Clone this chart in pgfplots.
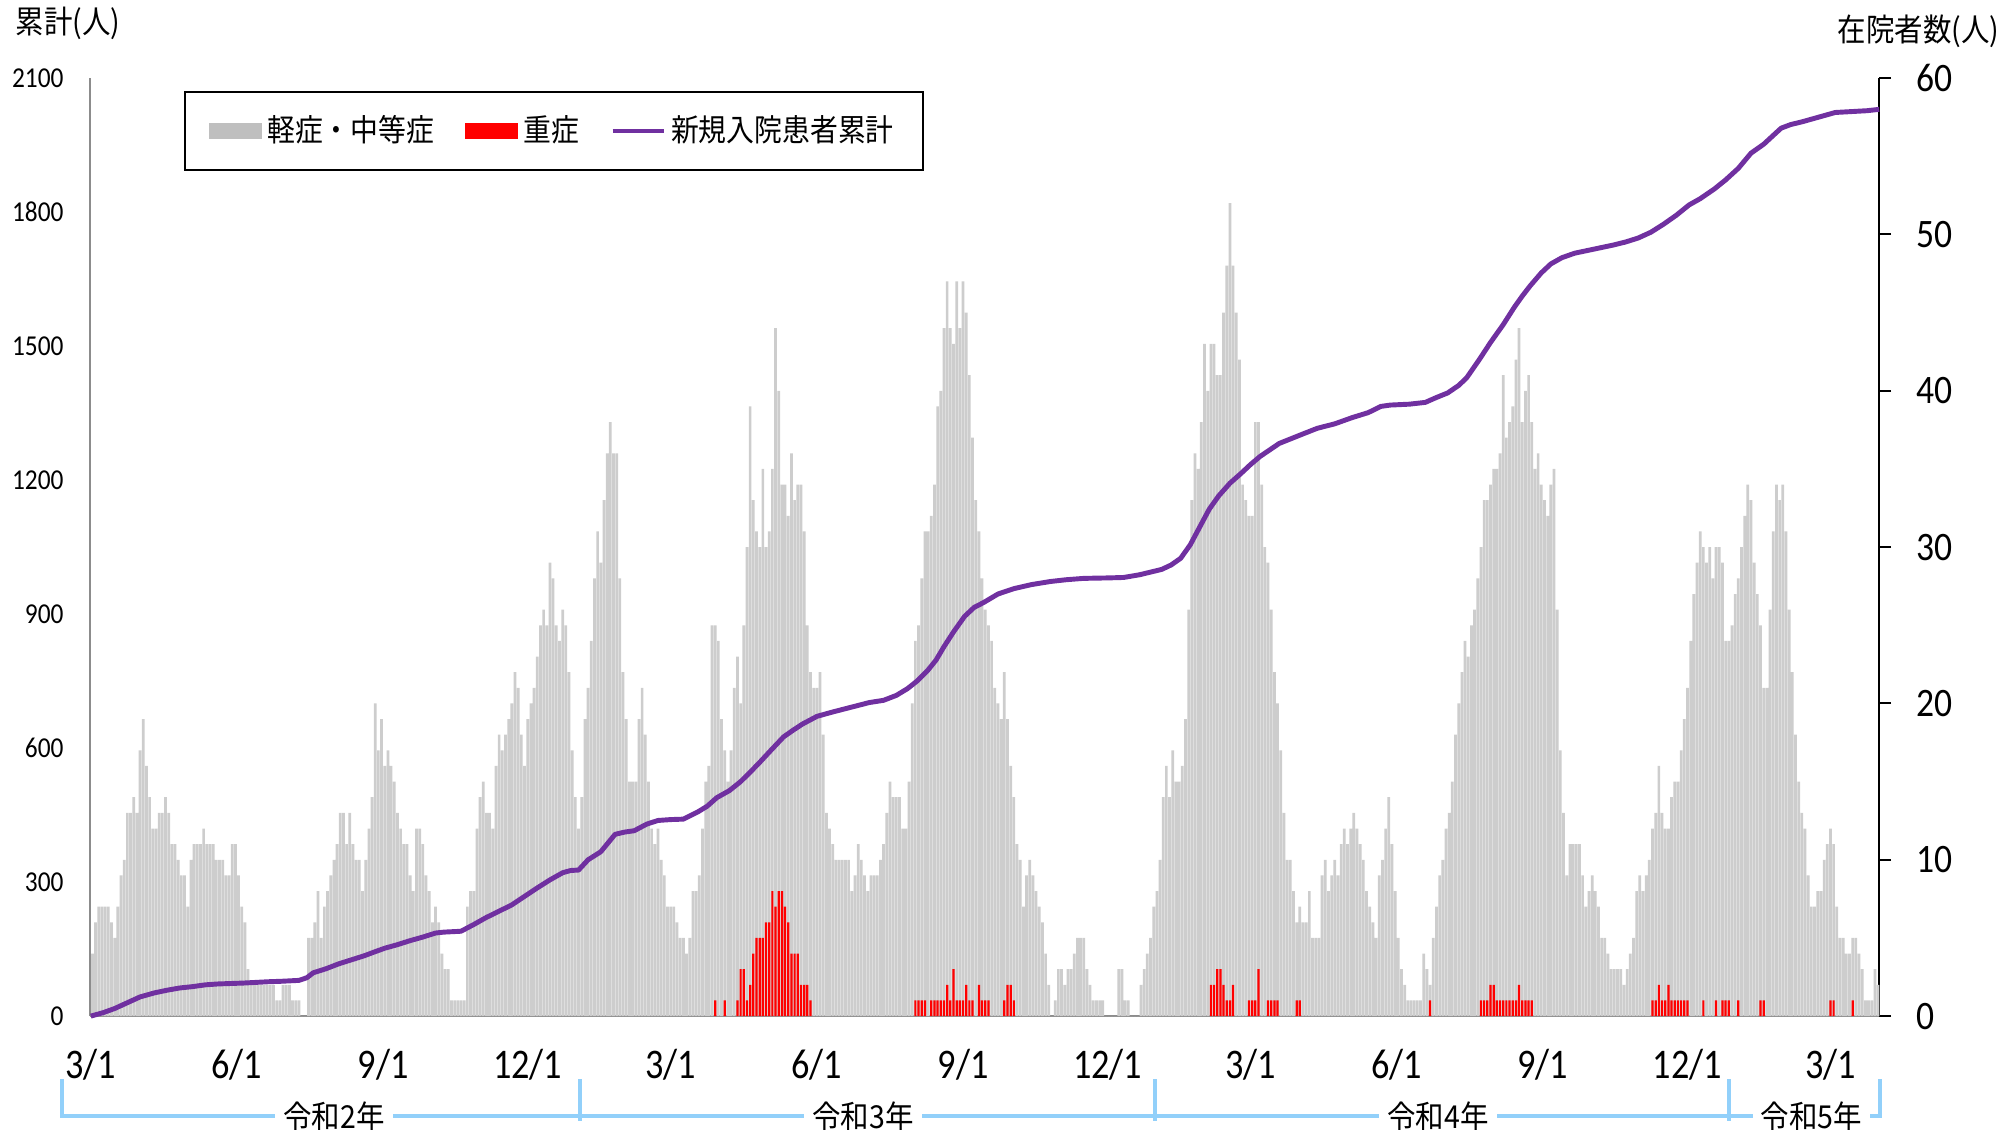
\documentclass[border=0pt]{standalone}
\usepackage{fontspec}
\usepackage{pgfplots}
\usepackage{pgfplotstable}
\pgfplotsset{compat=1.18}
\setmainfont{Carlito}
\newfontfamily\jp[FakeStretch=0.9]{Noto Sans CJK JP}
\newfontfamily\numc[FakeStretch=0.86]{Carlito}
\newfontfamily\numr[FakeStretch=0.88]{Carlito}
\definecolor{barGray}{RGB}{205,205,205}
\definecolor{legGray}{RGB}{191,191,191}
\definecolor{lineP}{RGB}{112,48,160}
\definecolor{axGray}{RGB}{140,140,140}
\definecolor{yrBlue}{RGB}{146,208,250}

% in-hospital total, one value per two days starting 2020-03-01
\pgfplotstableread[row sep=\\]{t\\
4\\6\\7\\7\\7\\7\\6\\5\\7\\9\\10\\13\\13\\14\\13\\17\\19\\16\\14\\12\\12\\13\\13\\14\\13\\11\\11\\10\\9\\9\\7\\10\\11\\11\\11\\12\\11\\11\\11\\10\\10\\10\\9\\9\\11\\11\\9\\7\\6\\3\\
2\\2\\2\\2\\2\\2\\2\\2\\1\\1\\2\\2\\2\\1\\1\\1\\0\\0\\
5\\5\\6\\8\\5\\7\\8\\9\\10\\11\\13\\13\\11\\13\\11\\10\\10\\8\\10\\12\\14\\20\\17\\19\\16\\17\\16\\15\\13\\12\\11\\11\\9\\8\\12\\12\\11\\9\\8\\6\\7\\6\\4\\3\\3\\1\\1\\1\\1\\1\\
7\\8\\8\\12\\14\\15\\13\\13\\12\\16\\18\\17\\18\\19\\20\\22\\21\\18\\16\\19\\20\\21\\23\\25\\26\\25\\29\\28\\25\\24\\26\\25\\22\\17\\14\\12\\14\\19\\21\\24\\28\\31\\29\\33\\36\\38\\36\\36\\28\\22\\
19\\15\\15\\15\\19\\21\\18\\15\\12\\11\\12\\10\\9\\7\\7\\7\\6\\5\\5\\4\\5\\8\\8\\9\\12\\15\\16\\25\\25\\24\\19\\17\\15\\17\\21\\23\\20\\25\\30\\39\\33\\31\\30\\35\\30\\31\\35\\44\\40\\34\\
34\\32\\36\\33\\34\\34\\31\\25\\22\\21\\21\\22\\18\\13\\12\\11\\10\\10\\10\\10\\10\\8\\9\\11\\10\\9\\8\\9\\9\\9\\10\\11\\13\\15\\14\\14\\14\\12\\12\\15\\20\\24\\25\\28\\31\\31\\32\\34\\39\\40\\
44\\47\\44\\43\\47\\44\\47\\45\\41\\37\\33\\31\\28\\26\\25\\24\\21\\20\\19\\22\\19\\16\\14\\11\\10\\7\\9\\10\\9\\8\\7\\6\\4\\2\\0\\1\\3\\3\\2\\3\\3\\4\\5\\5\\5\\3\\2\\1\\1\\1\\
1\\0\\0\\0\\0\\3\\3\\1\\1\\0\\0\\0\\2\\3\\4\\5\\7\\8\\10\\14\\16\\14\\17\\15\\15\\16\\19\\26\\33\\36\\35\\38\\43\\40\\43\\43\\41\\41\\45\\48\\52\\48\\45\\42\\34\\33\\32\\32\\38\\38\\
34\\30\\29\\26\\22\\20\\17\\13\\10\\10\\8\\6\\7\\6\\6\\8\\5\\5\\5\\9\\10\\8\\9\\10\\9\\11\\12\\11\\12\\13\\12\\11\\10\\8\\7\\6\\5\\9\\10\\12\\14\\11\\8\\5\\3\\2\\1\\1\\1\\1\\
1\\4\\3\\2\\5\\7\\9\\10\\12\\13\\15\\18\\20\\22\\24\\23\\25\\26\\28\\30\\33\\33\\34\\35\\35\\36\\41\\37\\38\\39\\42\\44\\38\\40\\41\\38\\35\\36\\34\\33\\32\\34\\35\\26\\17\\13\\9\\11\\11\\11\\
11\\9\\7\\8\\9\\8\\7\\5\\5\\4\\3\\3\\3\\3\\2\\3\\4\\5\\8\\9\\8\\9\\10\\12\\13\\16\\13\\12\\12\\14\\15\\15\\17\\19\\21\\24\\27\\29\\31\\30\\29\\30\\28\\30\\30\\29\\24\\24\\25\\27\\
28\\30\\32\\34\\33\\29\\27\\25\\21\\21\\26\\31\\34\\33\\34\\31\\26\\22\\18\\15\\13\\12\\9\\7\\7\\8\\8\\10\\11\\12\\11\\7\\5\\5\\4\\4\\5\\5\\4\\3\\1\\1\\1\\3\\2\\
}\grayTab

\begin{document}
\begin{tikzpicture}
\begin{axis}[
  at={(0,0)}, anchor=south west,
  scale only axis, width=178.9mm, height=93.8mm,
  xmin=-0.4, xmax=1125.7, ymin=0, ymax=60,
  axis x line*=bottom, axis y line*=right,
  x axis line style={draw=axGray, line width=0.6pt, -},
  y axis line style={draw=black, line width=0.6pt, -},
  xtick={0,92,184,275,365,457,549,640,730,822,914,1005,1095},
  xticklabels={3/1,6/1,9/1,12/1,3/1,6/1,9/1,12/1,3/1,6/1,9/1,12/1,3/1},
  xtick style={draw=none},
  ytick={0,10,...,60},
  ytick style={draw=black, line width=0.6pt},
  tick align=outside, major tick length=1.2mm,
  xticklabel style={font=\numc\fontsize{12pt}{12pt}\selectfont, anchor=base, inner sep=0pt, yshift=-5.0mm},
  yticklabel style={font=\numr\fontsize{11.5pt}{11.5pt}\selectfont, anchor=west, inner sep=0pt, xshift=2.5mm},
  /pgf/number format/assume math mode=true,
  clip=false,
]
\addplot[ybar, bar width=1.7, bar shift=0pt, fill=barGray, draw=none] table[x expr=2*\coordindex+1, y=t] {\grayTab};
\addplot[ybar, bar width=1.4, bar shift=0pt, fill=red, draw=none] coordinates {
(393,1)(399,1)(407,1)(409,3)(411,3)(413,1)(415,2)(417,4)(419,5)(421,5)(423,5)(425,6)(427,6)(429,8)(431,7)(433,8)(435,8)(437,7)(439,6)(441,4)(443,4)(445,4)(447,2)(449,2)(451,2)(453,1)
(519,1)(521,1)(523,1)(525,1)(529,1)(531,1)(533,1)(535,1)(537,1)(539,2)(541,1)(543,3)(545,1)(547,1)(549,1)(551,2)(553,1)(555,1)(559,2)(561,1)(563,1)(565,1)(575,1)(577,2)(579,2)(581,1)
(705,2)(707,2)(709,3)(711,3)(713,2)(715,1)(717,1)(719,2)(729,1)(731,1)(733,1)(735,3)(741,1)(743,1)(745,1)(747,1)(759,1)(761,1)(843,1)
(875,1)(877,1)(879,1)(881,2)(883,2)(885,1)(887,1)(889,1)(891,1)(893,1)(895,1)(897,1)(899,2)(901,1)(903,1)(905,1)(907,1)
(983,1)(985,1)(987,2)(989,1)(991,1)(993,2)(995,1)(997,1)(999,1)(1001,1)(1003,1)(1005,1)(1015,1)(1023,1)(1027,1)(1029,1)(1031,1)(1037,1)(1051,1)(1053,1)(1095,1)(1097,1)(1109,1)
};
% year brackets
\draw[yrBlue, line width=1.15pt] ([yshift=-6.3mm]axis cs:-18,0) -- ([yshift=-10.0mm]axis cs:-18,0) -- ([yshift=-10.0mm]axis cs:1126,0) -- ([yshift=-6.3mm]axis cs:1126,0);
\draw[yrBlue, line width=1.15pt] ([yshift=-6.3mm]axis cs:308,0) -- ([yshift=-10.5mm]axis cs:308,0);
\draw[yrBlue, line width=1.15pt] ([yshift=-6.3mm]axis cs:670,0) -- ([yshift=-10.5mm]axis cs:670,0);
\draw[yrBlue, line width=1.15pt] ([yshift=-6.3mm]axis cs:1031,0) -- ([yshift=-10.5mm]axis cs:1031,0);
\node[fill=white, inner xsep=0.8mm, inner ysep=0.3mm, font=\jp\fontsize{9pt}{9pt}\selectfont] at ([yshift=-10.0mm]axis cs:153,0) {令和2年};
\node[fill=white, inner xsep=0.8mm, inner ysep=0.3mm, font=\jp\fontsize{9pt}{9pt}\selectfont] at ([yshift=-10.0mm]axis cs:486,0) {令和3年};
\node[fill=white, inner xsep=0.8mm, inner ysep=0.3mm, font=\jp\fontsize{9pt}{9pt}\selectfont] at ([yshift=-10.0mm]axis cs:848,0) {令和4年};
\node[fill=white, inner xsep=0.8mm, inner ysep=0.3mm, font=\jp\fontsize{9pt}{9pt}\selectfont] at ([yshift=-10.0mm]axis cs:1083,0) {令和5年};
\end{axis}

\begin{axis}[
  at={(0,0)}, anchor=south west,
  scale only axis, width=178.9mm, height=93.8mm,
  xmin=-0.4, xmax=1125.7, ymin=0, ymax=2100,
  axis x line=none, axis y line*=left,
  y axis line style={draw=axGray, line width=0.6pt, -},
  ytick={0,300,...,2100}, ytick style={draw=none},
  major tick length=0pt, tick align=inside,
  yticklabel style={font=\numr\fontsize{8.2pt}{8.2pt}\selectfont, anchor=east, inner sep=0pt, xshift=-2.6mm},
  /pgf/number format/1000 sep={},
  /pgf/number format/assume math mode=true,
  clip=false,
  legend style={at={(axis description cs:0.0525,0.986)}, anchor=north west, draw=black, line width=0.6pt, fill=white,
    inner xsep=2.4mm, inner ysep=1.3mm, font=\jp\fontsize{8.8pt}{10pt}\selectfont,
    /tikz/every even column/.append style={column sep=2.6mm},
    nodes={inner xsep=0.5mm, inner ysep=1mm}},
  legend columns=-1, legend cell align=left,
]
\addlegendimage{legend image code/.code={\fill[legGray] (0mm,-0.7mm) rectangle (5.1mm,0.7mm);}}
\addlegendentry{軽症・中等症}
\addlegendimage{legend image code/.code={\fill[red] (0mm,-0.7mm) rectangle (5.1mm,0.7mm);}}
\addlegendentry{重症}
\addplot[lineP, line width=1.4pt, line join=round, legend image code/.code={\draw[lineP, line width=1.4pt] (0mm,0mm) -- (5.1mm,0mm);}] coordinates {
(0,0)(8,8)(15,17)(23,30)(31,43)(40,52)(48,58)(56,63)(64,66)(72,70)(80,72)(88,73)(96,74)(112,77)(120,78)(131,80)(136,86)(140,97)(148,106)(156,117)(164,126)(172,135)(178,143)(185,152)(193,160)(201,169)(209,177)(217,186)(222,188)(233,190)(241,205)(249,221)(257,235)(265,249)(273,268)(281,287)(289,305)(297,321)(302,326)(307,327)(313,350)(321,368)(330,407)(336,412)(342,415)(350,430)(357,438)(365,440)(373,441)(382,457)(388,470)(394,489)(402,505)(409,525)(415,546)(421,568)(427,591)(436,625)(442,640)(448,654)(457,671)(466,680)(478,691)(490,702)(499,707)(507,718)(514,733)(520,750)(527,775)(532,797)(537,827)(543,860)(550,895)(556,915)(562,926)(571,945)(581,957)(592,966)(604,973)(614,977)(625,980)(640,981)(650,982)(660,988)(667,994)(674,1000)(680,1010)(686,1025)(692,1055)(698,1095)(704,1135)(710,1165)(717,1193)(724,1215)(730,1235)(736,1253)(748,1282)(762,1302)(772,1316)(783,1326)(794,1340)(804,1351)(812,1365)(818,1368)(830,1370)(840,1374)(847,1385)(854,1395)(861,1412)(866,1429)(874,1470)(881,1508)(889,1548)(896,1587)(901,1612)(906,1635)(913,1664)(919,1684)(926,1698)(934,1708)(942,1714)(950,1720)(958,1726)(966,1733)(974,1742)(982,1755)(990,1773)(998,1793)(1006,1816)(1013,1830)(1022,1852)(1029,1872)(1037,1898)(1045,1932)(1053,1952)(1060,1975)(1064,1988)(1070,1996)(1077,2002)(1085,2010)(1092,2017)(1098,2023)(1108,2025)(1118,2027)(1125.7,2030)
};
\addlegendentry{新規入院患者累計}
\node[anchor=west, inner sep=0pt, font=\jp\fontsize{9pt}{9pt}\selectfont] at ([xshift=-7.5mm,yshift=5.5mm]rel axis cs:0,1) {累計(人)};
\node[anchor=east, inner sep=0pt, font=\jp\fontsize{9pt}{9pt}\selectfont] at ([xshift=12.1mm,yshift=4.7mm]rel axis cs:1,1) {在院者数(人)};
\end{axis}
\pgfresetboundingbox
\path (-9.02mm,-11.37mm) rectangle (191.68mm,101.61mm);
\end{tikzpicture}
\end{document}
